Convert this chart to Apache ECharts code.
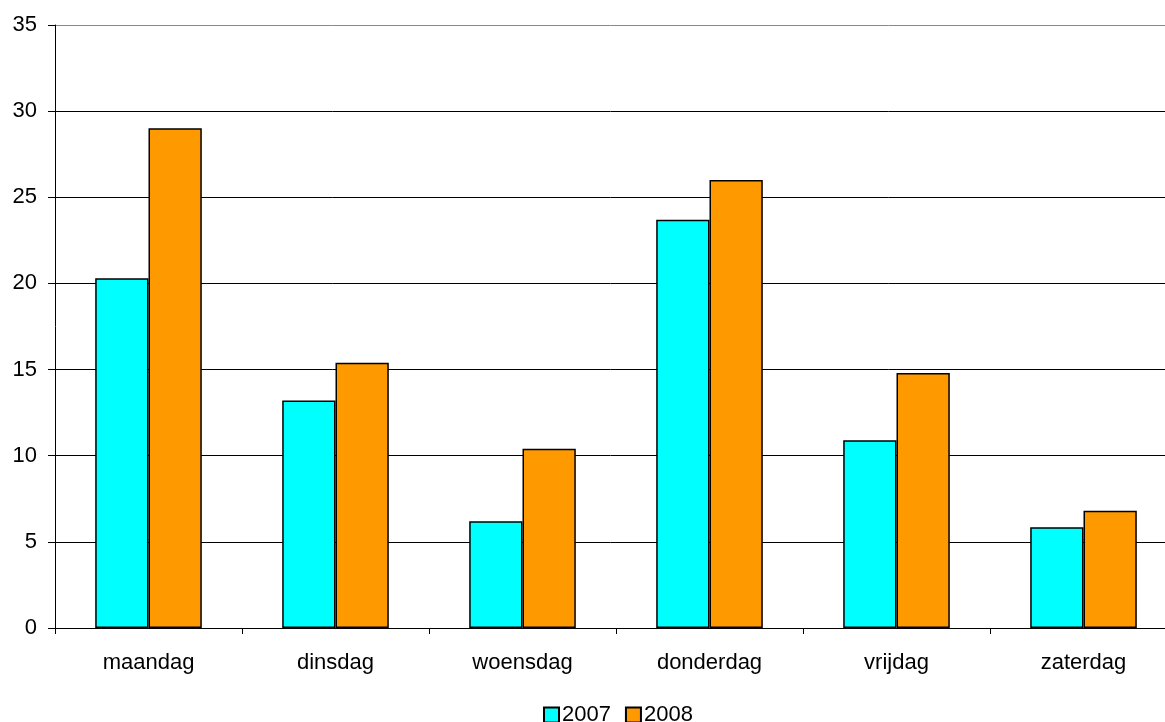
<!DOCTYPE html>
<html><head><meta charset="utf-8">
<script src="https://cdn.jsdelivr.net/npm/echarts@6/dist/echarts.min.js"></script>
<style>html,body{margin:0;padding:0;background:#fff;overflow:hidden}#c{width:1165px;height:722px}</style>
</head><body><div id="c"></div>
<script>
const categories = ['maandag','dinsdag','woensdag','donderdag','vrijdag','zaterdag'];
const s2007 = [20.3, 13.2, 6.2, 23.7, 10.9, 5.85];
const s2008 = [29.0, 15.4, 10.4, 26.0, 14.8, 6.8];
const seriesNames = ['2007','2008'];
const font = 'Liberation Sans, Arial, sans-serif';
const chart = echarts.init(document.getElementById('c'));
chart.setOption({
  animation:false,
  grid:{left:55, top:25, width:1122, height:603, containLabel:false, outerBoundsMode:'none'},
  legend:{top:699, left:538, itemWidth:15, itemHeight:15, itemGap:14,
    textStyle:{fontFamily:font, fontSize:22, color:'#000', padding:[0,0,0,-2]},
    icon:'rect', data:seriesNames},
  xAxis:{type:'category', data:categories,
    axisLine:{lineStyle:{color:'#000', width:1}},
    axisTick:{show:true, length:6, lineStyle:{color:'#000'}},
    axisLabel:{fontFamily:font, fontSize:22, color:'#000', margin:24}},
  yAxis:{type:'value', min:0, max:35, interval:5,
    axisLine:{show:true, lineStyle:{color:'#000'}},
    axisTick:{show:true, length:7, lineStyle:{color:'#000'}},
    axisLabel:{fontFamily:font, fontSize:22, color:'#000', margin:18},
    splitLine:{lineStyle:{color:['#000','#000','#000','#000','#000','#000','#000','#888'], width:1}}},
  series:[
    {name:seriesNames[0], type:'bar', data:s2007, barGap:'0%', barCategoryGap:'43%',
     itemStyle:{color:'#00FFFF', borderColor:'#000', borderWidth:1.5}},
    {name:seriesNames[1], type:'bar', data:s2008,
     itemStyle:{color:'#FF9900', borderColor:'#000', borderWidth:1.5}}
  ]
});
</script></body></html>
